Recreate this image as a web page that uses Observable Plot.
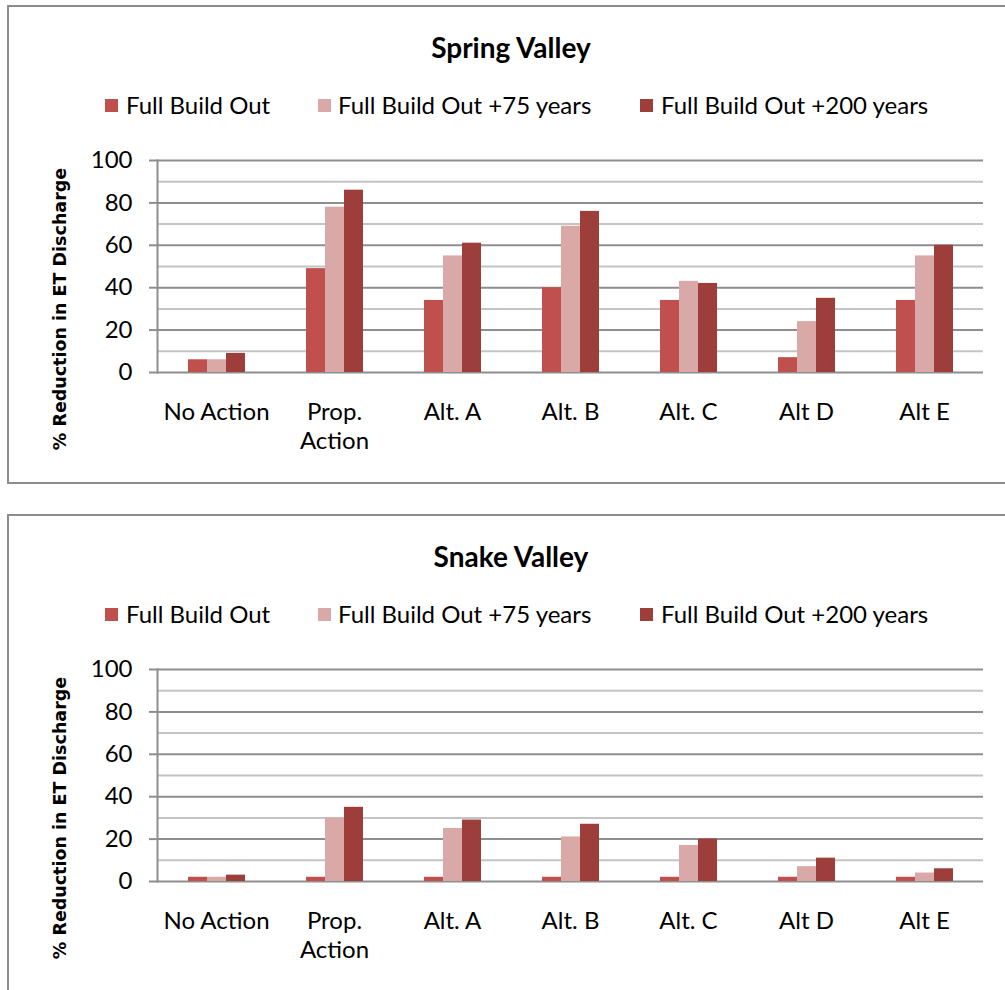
<!DOCTYPE html>
<html><head><meta charset="utf-8">
<script src="https://cdn.jsdelivr.net/npm/d3@7"></script>
<script src="https://cdn.jsdelivr.net/npm/@observablehq/plot@0.6"></script>
<style>
body{margin:0;background:#fff;width:1005px;height:990px;overflow:hidden;position:relative;font-family:Lato,"Open Sans",sans-serif;color:#000}
.panel{position:absolute;left:7px;width:1010px;box-sizing:border-box;border-top:2px solid #8c8c8c;border-left:2px solid #8c8c8c;border-bottom:2px solid #8c8c8c}
.title{position:absolute;left:311px;width:400px;text-align:center;font-weight:bold;font-size:28px;line-height:34px}
.lg{position:absolute;font-size:24px;line-height:28px;white-space:nowrap}
.sw{position:absolute;width:13px;height:13px}
.ylab{position:absolute;width:340px;left:-110px;text-align:center;font-family:"DejaVu Sans",sans-serif;font-weight:bold;font-size:17.5px;line-height:20px;transform:rotate(-90deg);white-space:nowrap}
.chart{position:absolute;left:0}
</style></head>
<body>
<script>
const categories = ["No Action","Prop. Action","Alt. A","Alt. B","Alt. C","Alt D","Alt E"];
const categoryLabels = ["No Action","Prop.\nAction","Alt. A","Alt. B","Alt. C","Alt D","Alt E"];
const series = ["Full Build Out","Full Build Out +75 years","Full Build Out +200 years"];
const colors = ["#C0504D","#D9A9A8","#9D3E3B"];
const springFull = [6,49,34,40,34,7,34];
const spring75 = [6,78,55,69,43,24,55];
const spring200 = [9,86,61,76,42,35,60];
const snakeFull = [2,2,2,2,2,2,2];
const snake75 = [2,30,25,21,17,7,4];
const snake200 = [3,35,29,27,20,11,6];
const majorTicks = [0,20,40,60,80,100];
const minorTicks = [10,30,50,70,90];
const yLabel = "% Reduction in ET Discharge";

function panel(title, vals, off) {
  const p = document.createElement("div");
  p.className = "panel";
  p.style.top = (5 + off) + "px";
  p.style.height = (off === 0 ? 479 : 520) + "px";
  document.body.appendChild(p);

  const t = document.createElement("div");
  t.className = "title"; t.textContent = title; t.style.top = (30 + off) + "px";
  document.body.appendChild(t);

  const swX = [105, 318, 640], txX = [126, 338, 661];
  series.forEach((s, i) => {
    const sw = document.createElement("div");
    sw.className = "sw"; sw.style.background = colors[i];
    sw.style.left = swX[i] + "px"; sw.style.top = (99 + off) + "px";
    document.body.appendChild(sw);
    const tx = document.createElement("div");
    tx.className = "lg"; tx.textContent = s;
    tx.style.left = txX[i] + "px"; tx.style.top = (91 + off) + "px";
    document.body.appendChild(tx);
  });

  const yl = document.createElement("div");
  yl.className = "ylab"; yl.textContent = yLabel; yl.style.top = (299 + off) + "px";
  document.body.appendChild(yl);

  const data = [];
  categories.forEach((c, j) => {
    series.forEach((s, i) => data.push({category: c, series: s, value: vals[i][j]}));
  });

  const chart = Plot.plot({
    width: 1005, height: 330,
    marginLeft: 155, marginRight: 20, marginTop: 20, marginBottom: 98,
    style: {fontFamily: "Lato, 'Open Sans', sans-serif", fontSize: "24px", color: "#000", background: "transparent", overflow: "visible"},
    fx: {domain: categories, padding: 0, label: null, axis: null},
    x: {domain: series, paddingInner: 0, paddingOuter: 1.5, axis: null},
    y: {domain: [0, 100], axis: null},
    color: {domain: series, range: colors},
    marks: [
      Plot.ruleY(minorTicks, {stroke: "#c4c4c4", strokeWidth: 2}),
      Plot.ruleY(majorTicks, {stroke: "#8e8e8e", strokeWidth: 2}),
      Plot.barY(data, {fx: "category", x: "series", y: "value", fill: "series"}),
      Plot.axisY(majorTicks, {tickSize: 8, tickPadding: 17, stroke: "#8e8e8e", strokeWidth: 2, fontSize: 24, label: null, facetAnchor: "left"}),
      Plot.axisFx({anchor: "bottom", tickSize: 0, tickPadding: 27, fontSize: 24, lineHeight: 1.2, label: null,
        tickFormat: d => categoryLabels[categories.indexOf(d)]}),
      Plot.frame({anchor: "left", stroke: "#8e8e8e", strokeWidth: 2, facetAnchor: "left"})
    ]
  });
  chart.classList.add("chart");
  chart.style.top = (140 + off) + "px";
  document.body.appendChild(chart);
}

panel("Spring Valley", [springFull, spring75, spring200], 0);
panel("Snake Valley", [snakeFull, snake75, snake200], 509);
</script>
</body></html>
